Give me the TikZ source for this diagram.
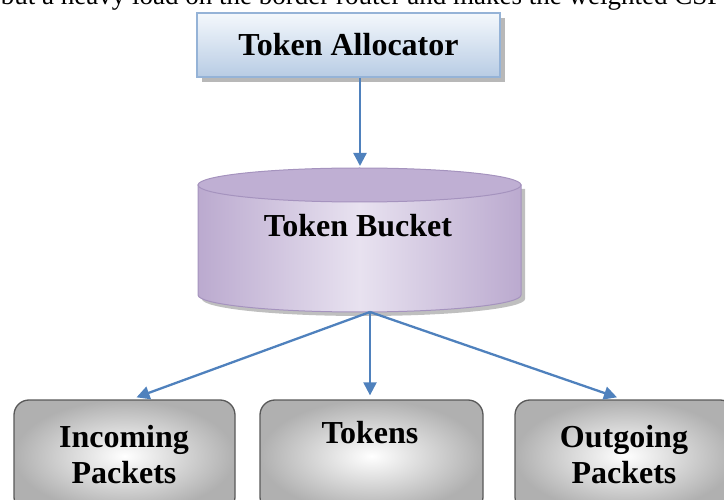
\documentclass[tikz,border=0pt]{standalone}
\usepackage{fontspec}
\setmainfont{Liberation Serif}
\usetikzlibrary{arrows.meta,shadows}
\definecolor{arrowblue}{HTML}{4F81BD}
\definecolor{allocborder}{HTML}{95B3D7}
\definecolor{allocbottom}{HTML}{B8CCE4}
\definecolor{alloctop}{HTML}{F4F8FC}
\definecolor{bucketedge}{HTML}{A593BE}
\definecolor{bucketdark}{HTML}{BBAACF}
\definecolor{bucketlight}{HTML}{E8E2F0}
\definecolor{buckettop}{HTML}{BFAFD3}
\definecolor{boxborder}{HTML}{595959}
\definecolor{boxgray}{HTML}{B0B0B0}
\tikzset{
  bigtext/.style={font=\fontsize{32}{36}\selectfont\bfseries, inner sep=0pt},
  connector/.style={draw=arrowblue, line width=2.3pt, -{Triangle[length=13pt,width=13pt]}},
  graybox/.style={draw=boxborder, line width=1.3pt, rounded corners=15pt,
    inner color=white, outer color=boxgray, minimum width=221pt, minimum height=112pt},
}
\begin{document}
\begin{tikzpicture}[x=1pt,y=-1pt]
\useasboundingbox (0,0) rectangle (724,500);
\clip (0,0) rectangle (724,500);

% cut-off line of running text at the top
\node[anchor=base east, font=\fontsize{27}{32}\selectfont, inner sep=0pt] (toptext) at (742,5)
  {but a heavy load on the border router and makes the weighted CSFQ};

% Token Allocator
\fill[black!28] (202,18) rectangle (505,82);
\node[draw=allocborder, line width=1.3pt, top color=alloctop, bottom color=allocbottom,
      minimum width=303pt, minimum height=64pt, bigtext] (alloc) at (348.5,45) {Token Allocator};

% Token Bucket (cylinder)
\fill[black!25] (202,189) -- (202,299) arc[start angle=180,end angle=360,x radius=161.5pt,y radius=17pt] -- (525,189) -- cycle;
\path[draw=bucketedge, line width=1pt, left color=bucketdark, right color=bucketdark, middle color=bucketlight]
  (198,185) -- (198,295) arc[start angle=180,end angle=360,x radius=161.5pt,y radius=17pt] -- (521,185) -- cycle;
\path[draw=bucketedge, line width=1pt, fill=buckettop] (359.5,185) ellipse[x radius=161.5pt, y radius=17pt];
\node[bigtext, anchor=base] (bucketlabel) at (358,237) {Token Bucket};
\coordinate (btop) at (360,166);
\coordinate (bbot) at (370,312);

% bottom boxes
\node[graybox] (inc) at (124.5,456) {};
\node[graybox, minimum width=223pt] (tok) at (371.5,456) {};
\node[graybox, minimum width=220pt] (outg) at (625,456) {};
\node[bigtext, anchor=base] (inctext) at (124,447) {Incoming};
\node[bigtext, anchor=base] (inctext2) at (124,483) {Packets};
\node[bigtext, anchor=base] (toktext) at (370,443) {Tokens};
\node[bigtext, anchor=base] (outtext) at (624,447) {Outgoing};
\node[bigtext, anchor=base] (outtext2) at (624,483) {Packets};

% connectors
\draw[connector] (alloc.south -| btop) -- (btop);
\draw[connector] (bbot) -- ([xshift=12pt,yshift=2pt]inc.north);
\draw[connector] (bbot) -- ([xshift=-1.5pt,yshift=4pt]tok.north);
\draw[connector] (bbot) -- ([xshift=-8pt,yshift=2pt]outg.north);
\end{tikzpicture}
\end{document}
